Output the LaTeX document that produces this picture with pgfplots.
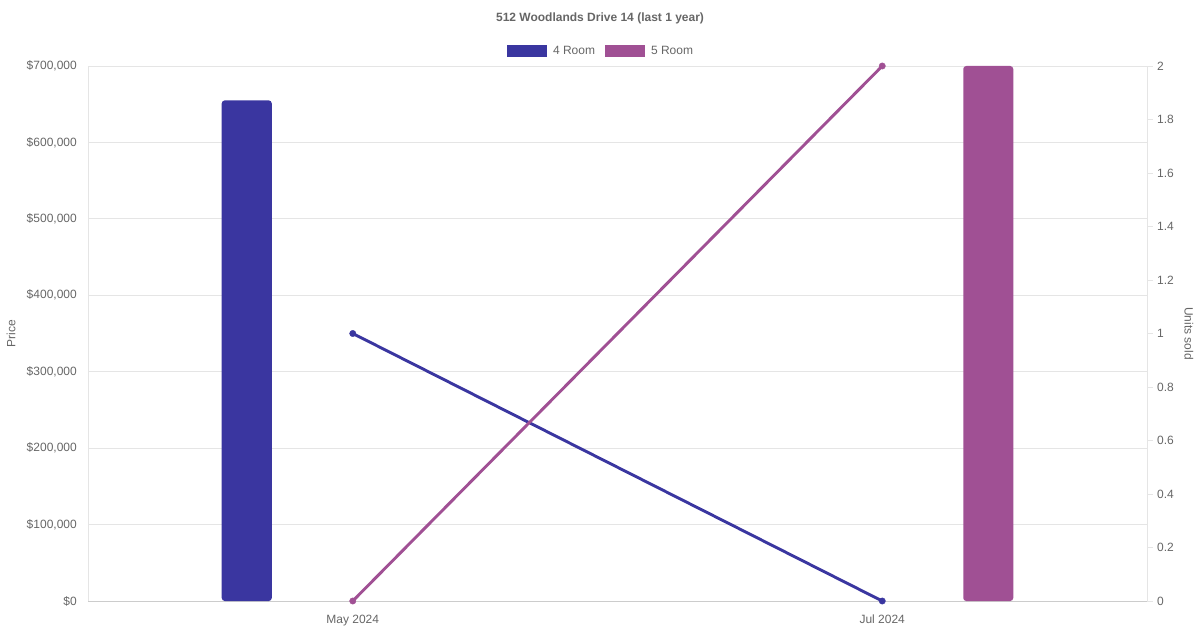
\documentclass[border=0pt]{standalone}
\usepackage{pgfplots}
\pgfplotsset{compat=1.18}
\usepackage{fontspec}
\setmainfont{Liberation Sans}
\definecolor{fourr}{RGB}{58,54,160}
\definecolor{fiver}{RGB}{160,80,148}
\definecolor{txt}{RGB}{102,102,102}
\definecolor{gridc}{RGB}{229,229,229}
\definecolor{basec}{RGB}{204,204,204}
\pgfplotsset{
  common/.style={
    at={(88pt,29pt)}, anchor=south west,
    scale only axis, width=1059pt, height=535pt,
    xmin=-0.5, xmax=1.5,
    clip=false,
    /pgf/number format/assume math mode=true,
    tick label style={font=\fontsize{12}{14}\selectfont, text=txt},
  },
  legimg/.style={legend image code/.code={\fill[##1, sharp corners] (0pt,-6pt) rectangle (40pt,6pt);}},
}
\begin{document}
\begin{tikzpicture}[x=1pt,y=1pt]
\useasboundingbox (0,0) rectangle (1200,630);
\begin{axis}[common,
  ymin=0, ymax=700000,
  xtick={0,1}, xticklabels={May 2024, Jul 2024},
  ytick={0,100000,200000,300000,400000,500000,600000,700000},
  scaled y ticks=false,
  yticklabel={\$\pgfmathprintnumber[fixed,precision=0,1000 sep={,}]{\tick}},
  major tick length=0pt,
  ymajorgrids, major grid style={gridc, line width=0.8pt},
  axis x line*=bottom, axis y line*=left,
  x axis line style={basec, line width=0.8pt, -},
  y axis line style={gridc, line width=0.8pt, -},
  yticklabel style={inner sep=0pt, xshift=-11pt},
  xticklabel style={inner sep=0pt, yshift=-14pt},
  ylabel={Price},
  every axis y label/.style={at={(axis description cs:0,0.5)}, xshift=-77pt, rotate=90, anchor=center, font=\fontsize{12}{14}\selectfont, text=txt},
  title={\bfseries 512 Woodlands Drive 14 (last 1 year)},
  title style={at={(axis description cs:0.4835,1)}, yshift=42pt, anchor=center, font=\fontsize{12}{14}\selectfont, text=txt},
  legend columns=2,
  legend style={at={(axis description cs:0.4835,1)}, yshift=15pt, anchor=center, draw=none, fill=none,
    font=\fontsize{12}{14}\selectfont, text=txt,
    nodes={inner sep=0pt},
    /tikz/every odd column/.append style={column sep=6pt},
    /tikz/every even column/.append style={column sep=10pt}},
]
\addplot[ybar, bar width=50pt, bar shift=-106pt, fill=fourr, draw=none, rounded corners=3pt, legimg] coordinates {(0,655000)};
\addlegendentry{4 Room}
\addplot[ybar, bar width=50pt, bar shift=106pt, fill=fiver, draw=none, rounded corners=3pt, legimg] coordinates {(1,700000)};
\addlegendentry{5 Room}
\end{axis}
\begin{axis}[common,
  ymin=0, ymax=2,
  axis x line=none,
  axis y line*=right,
  y axis line style={gridc, line width=0.8pt, -},
  ytick={0,0.2,0.4,0.6,0.8,1,1.2,1.4,1.6,1.8,2},
  tick style={gridc, line width=0.8pt},
  major tick length=6pt, tick align=outside,
  yticklabel style={inner sep=0pt, xshift=4pt},
  ylabel={Units sold},
  every axis y label/.style={at={(axis description cs:1,0.5)}, xshift=42pt, rotate=-90, anchor=center, font=\fontsize{12}{14}\selectfont, text=txt},
]
\addplot[fourr, line width=2.9pt, mark=*, mark size=3.2pt, mark options={solid, line width=0.4pt, fill=fourr}] coordinates {(0,1) (1,0)};
\addplot[fiver, line width=2.9pt, mark=*, mark size=3.2pt, mark options={solid, line width=0.4pt, fill=fiver}] coordinates {(0,0) (1,2)};
\end{axis}
\end{tikzpicture}
\end{document}
